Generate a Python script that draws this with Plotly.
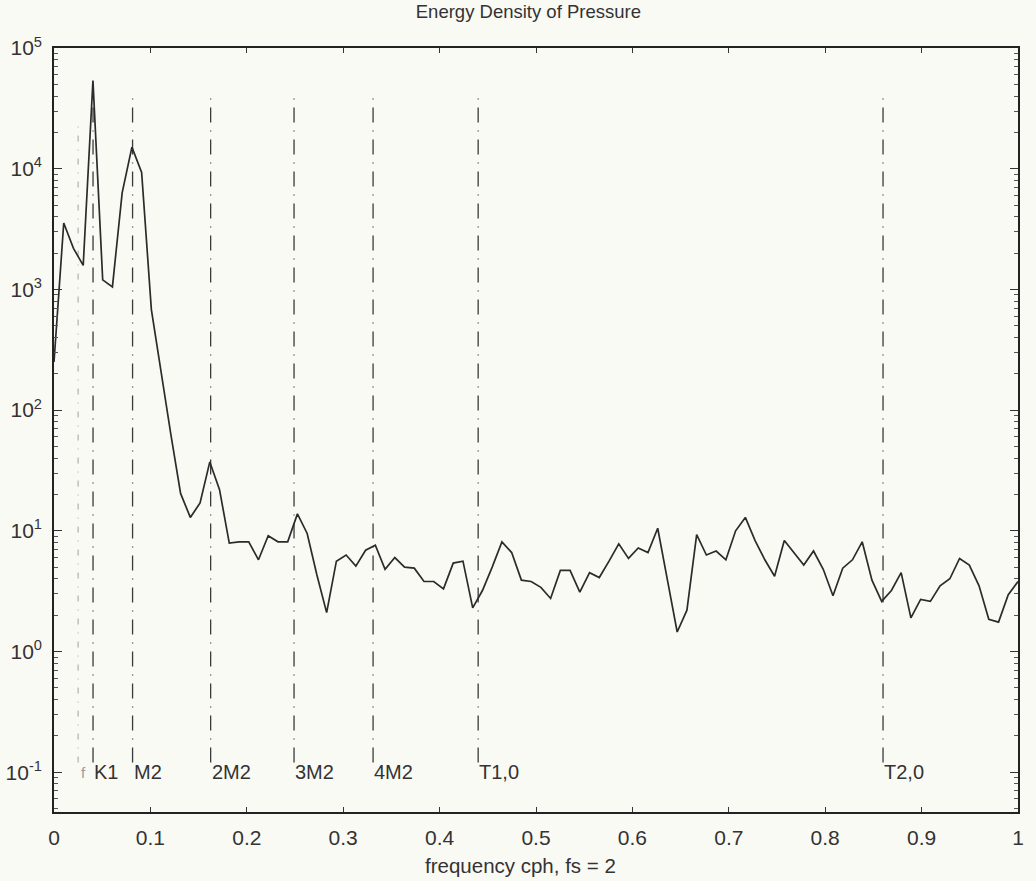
import plotly.graph_objects as go

# Pressure energy density spectrum (cph), one value per frequency bin
freq_step = 1 / 99
psd = [
    250, 3550, 2190, 1580, 53700, 1200, 1050, 6300, 15100, 9300,
    680, 200, 63, 20.4, 12.9, 17.0, 37.2, 21.9, 7.9, 8.1,
    8.1, 5.75, 9.1, 8.1, 8.1, 13.8, 9.5, 4.3, 2.1, 5.6,
    6.3, 5.1, 6.9, 7.6, 4.8, 6.0, 5.0, 4.9, 3.8, 3.8,
    3.3, 5.4, 5.6, 2.3, 3.2, 5.0, 8.1, 6.6, 3.9, 3.8,
    3.4, 2.75, 4.7, 4.7, 3.1, 4.5, 4.1, 5.6, 7.8, 5.9,
    7.2, 6.6, 10.5, 3.9, 1.45, 2.2, 9.3, 6.3, 6.8, 5.75,
    10.0, 12.9, 8.3, 5.75, 4.2, 8.3, 6.6, 5.2, 6.8, 4.8,
    2.9, 4.9, 5.75, 8.1, 3.9, 2.6, 3.2, 4.5, 1.9, 2.7,
    2.6, 3.5, 4.0, 5.9, 5.2, 3.5, 1.85, 1.75, 2.95, 3.8,
]
freq = [k * freq_step for k in range(len(psd))]

# Tidal constituents / seiche modes marked on the spectrum
constituent_names = ["K1", "M2", "2M2", "3M2", "4M2", "T1,0", "T2,0"]
constituent_freqs = [0.0405, 0.0815, 0.1625, 0.249, 0.331, 0.44, 0.86]
faint_name = "f"
faint_freq = 0.025

marker_ylow, marker_yhigh = 10 ** -0.92, 10 ** 4.63

y_exponents = [-1, 0, 1, 2, 3, 4, 5]
x_ticks = [0, 0.1, 0.2, 0.3, 0.4, 0.5, 0.6, 0.7, 0.8, 0.9, 1]
x_ticktext = ["0", "0.1", "0.2", "0.3", "0.4", "0.5", "0.6", "0.7", "0.8", "0.9", "1"]

FONT = "Liberation Sans, Arial, sans-serif"
INK = "#2b2b2b"
TEXT = "#333333"
BG = "#fafaf5"

fig = go.Figure()

# faint marker line
fig.add_trace(go.Scatter(
    x=[faint_freq, faint_freq], y=[marker_ylow, marker_yhigh * 0.55], mode="lines",
    line=dict(color="#a0a0a0", width=1, dash="6px,8px,1px,8px"),
    hoverinfo="skip", showlegend=False,
))
for f in constituent_freqs:
    fig.add_trace(go.Scatter(
        x=[f, f], y=[marker_ylow, marker_yhigh], mode="lines",
        line=dict(color="#3a3a3a", width=1.3, dash="15px,8px,1px,8px"),
        hoverinfo="skip", showlegend=False,
    ))

fig.add_trace(go.Scatter(
    x=freq, y=psd, mode="lines",
    line=dict(color=INK, width=1.7),
    showlegend=False,
))

ylog_min, ylog_max = -1.33, 5.0
label_paper_y = (-1 - ylog_min) / (ylog_max - ylog_min)

for name, f in zip(constituent_names, constituent_freqs):
    fig.add_annotation(
        x=f, y=label_paper_y, xref="x", yref="paper", text=name,
        showarrow=False, xanchor="left", yanchor="middle", xshift=-1,
        font=dict(family=FONT, size=20, color=TEXT),
    )
fig.add_annotation(
    x=faint_freq, y=label_paper_y, xref="x", yref="paper", text=faint_name,
    showarrow=False, xanchor="left", yanchor="middle", xshift=1,
    font=dict(family=FONT, size=15, color="#999999"),
)

# axis label under the tick labels
fig.add_annotation(
    x=0.484, y=0, xref="paper", yref="paper", text="frequency cph, fs = 2",
    showarrow=False, xanchor="center", yanchor="middle", yshift=-53,
    font=dict(family=FONT, size=20.5, color=TEXT),
)

minor_vals = [m * 10 ** e for e in range(-2, 5) for m in range(2, 10)]

fig.update_layout(
    width=1036, height=881,
    margin=dict(l=54, r=18, t=48, b=69),
    paper_bgcolor=BG, plot_bgcolor=BG,
    title=dict(
        text="Energy Density of Pressure", x=0.51, xanchor="center",
        y=1 - 12 / 881, yanchor="middle", yref="container",
        font=dict(family=FONT, size=18.5, color=TEXT),
    ),
    xaxis=dict(
        range=[0, 1], showgrid=False, zeroline=False, automargin=False,
        tickmode="array", tickvals=x_ticks, ticktext=x_ticktext,
        ticks="inside", ticklen=5, tickcolor="#333",
        showline=True, linecolor="#222", linewidth=1.6, mirror="ticks",
        tickfont=dict(family=FONT, size=21, color=TEXT),
        ticklabelstandoff=6,
    ),
    yaxis=dict(
        type="log", range=[ylog_min, ylog_max], showgrid=False, zeroline=False,
        automargin=False,
        tickmode="array", tickvals=[10 ** e for e in y_exponents],
        ticktext=[f"10<sup>{e}</sup>" for e in y_exponents],
        ticks="inside", ticklen=8, tickcolor="#333",
        minor=dict(tickmode="array", tickvals=minor_vals, ticks="inside",
                   ticklen=4, tickcolor="#555", showgrid=False),
        showline=True, linecolor="#222", linewidth=1.6, mirror="ticks",
        tickfont=dict(family=FONT, size=21, color=TEXT),
        ticklabelstandoff=6,
    ),
)

fig.write_html("out.html")
